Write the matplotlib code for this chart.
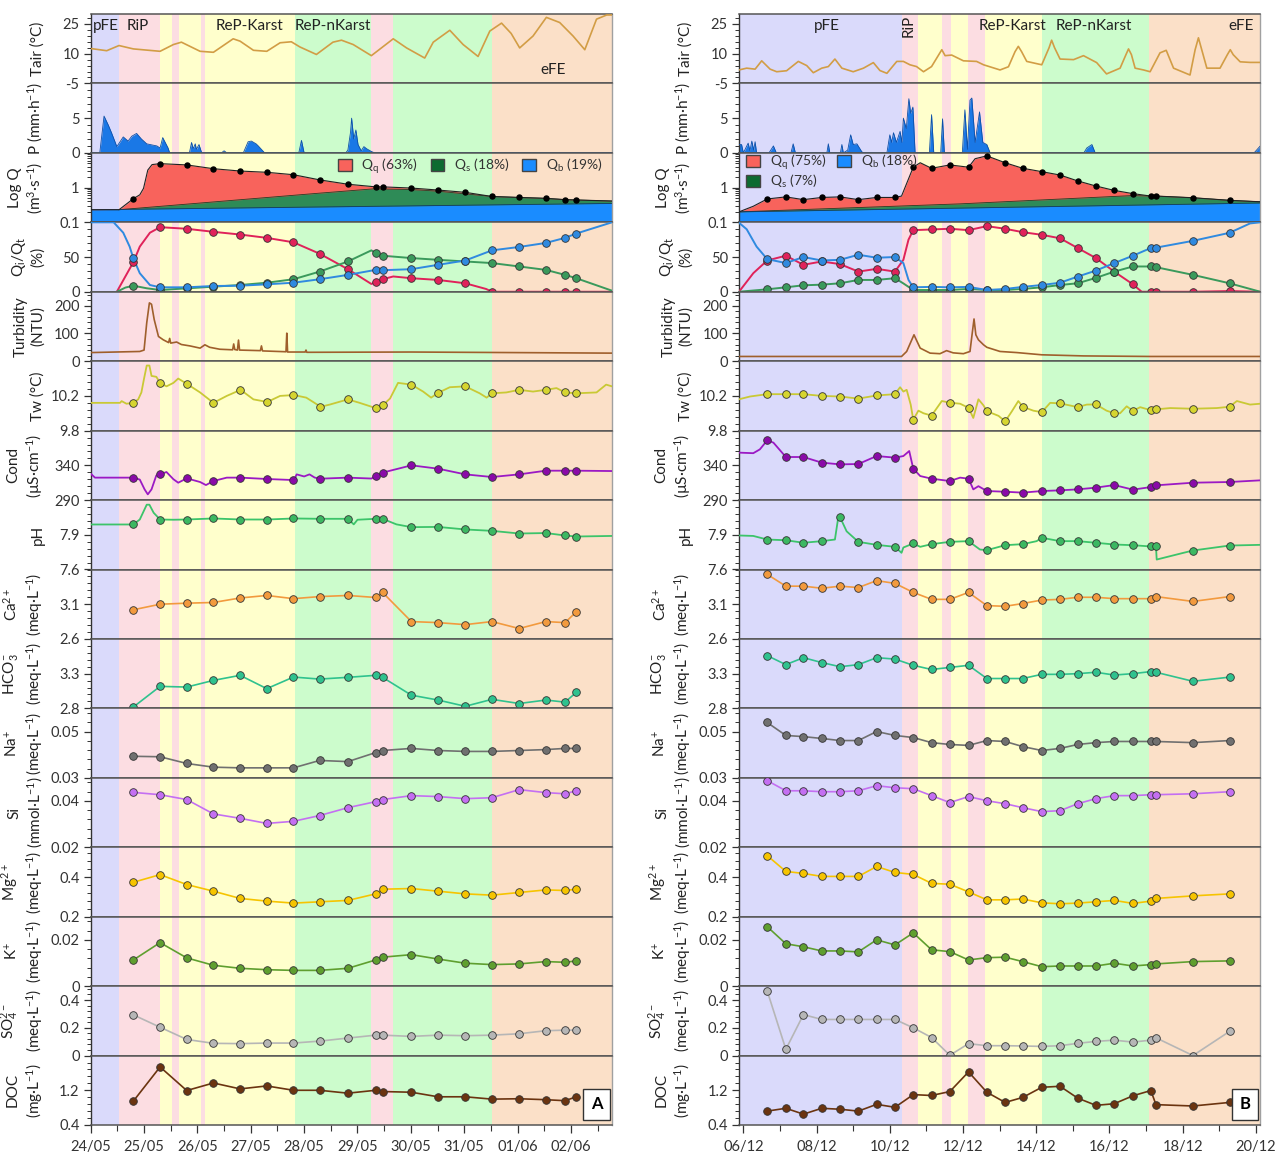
import matplotlib
matplotlib.use("Agg")
import matplotlib.pyplot as plt
from matplotlib.patches import Patch
from matplotlib.ticker import AutoMinorLocator, FixedLocator, FixedFormatter, NullFormatter, LogLocator, MultipleLocator

plt.rcParams['font.family'] = ['Lato', 'DejaVu Sans']
plt.rcParams['mathtext.fontset'] = 'custom'
plt.rcParams['mathtext.rm'] = 'Lato'
plt.rcParams['mathtext.it'] = 'Lato:italic'
plt.rcParams['mathtext.bf'] = 'Lato:bold'

# ---------------- data: column A (24/05 - 02/06), days from 24/05 00:00 ----------------
a_xlim = (0, 9.77)
a_xticks = [0, 1, 2, 3, 4, 5, 6, 7, 8, 9]
a_xticklabels = ['24/05', '25/05', '26/05', '27/05', '28/05', '29/05', '30/05', '31/05', '01/06', '02/06']
a_phase_bounds = [0, 0.53, 1.30, 1.52, 1.66, 2.07, 2.14, 3.83, 5.25, 5.66, 7.53, 9.77]
a_phase_kind = ['pFE', 'RiP', 'ReP-Karst', 'RiP', 'ReP-Karst', 'RiP', 'ReP-Karst', 'ReP-nKarst', 'RiP', 'ReP-nKarst', 'eFE']

a_tair_t = [0, 0.30, 0.53, 0.80, 1.30, 1.55, 1.70, 2.05, 2.30, 2.42, 2.67, 2.80, 3.05, 3.30, 3.55, 3.76, 3.92, 4.23, 4.54,
            4.70, 4.92, 5.26, 5.67, 5.92, 6.26, 6.42, 6.73, 6.98, 7.26, 7.48, 7.70, 7.88, 8.04, 8.29, 8.54, 8.79, 9.04,
            9.26, 9.48, 9.67, 9.77]
a_tair = [12.6, 11.5, 14.1, 12.4, 11.2, 14.6, 15.8, 11.2, 10.7, 12.9, 17.5, 16.3, 11.7, 11.2, 15.5, 16.0, 13.4, 9.6, 15.8,
          16.8, 14.6, 9.0, 17.5, 12.9, 7.8, 15.8, 21.8, 14.6, 8.6, 21.4, 25.4, 20.2, 12.9, 18.9, 28.3, 25.7, 18.9,
          12.0, 27.4, 29.5, 29.5]

a_p_t = [0, 0.17, 0.25, 0.33, 0.39, 0.49, 0.61, 0.70, 0.77, 0.86, 0.95, 1.05, 1.24, 1.30, 1.35, 1.45, 1.48, 1.85, 1.89,
         1.92, 1.96, 1.98, 2.03, 2.08, 2.45, 2.50, 2.55, 2.86, 2.95, 3.01, 3.10, 3.14, 3.26, 3.90, 3.95, 4.00, 4.78,
         4.82, 4.87, 4.89, 4.93, 4.97, 5.01, 5.07, 5.12, 5.17, 5.26, 5.32, 9.77]
a_p = [0, 0, 5.3, 4.0, 2.9, 0.9, 2.3, 1.7, 2.4, 2.8, 2.0, 1.3, 1.0, 0.7, 2.2, 0.7, 0, 0, 1.5, 0.6, 1.3, 0.5, 1.2, 0, 0,
       0.3, 0, 0, 1.6, 1.7, 1.3, 1.0, 0, 0, 1.8, 0, 0, 0.4, 3.0, 5.0, 2.0, 3.3, 1.2, 0.3, 0.9, 0.6, 0.2, 0, 0]

a_q_t = [0, 0.53, 0.80, 0.92, 0.99, 1.07, 1.15, 1.30, 1.80, 2.30, 2.80, 3.30, 3.80, 4.29, 4.82, 5.34, 5.47, 6.01, 6.51,
         7.02, 7.52, 8.03, 8.53, 8.89, 9.10, 9.77]
a_q = [0.23, 0.23, 0.48, 0.62, 0.95, 3.2, 4.6, 4.9, 4.5, 3.5, 3.0, 2.76, 2.35, 1.67, 1.25, 1.05, 1.05, 0.97, 0.85, 0.73,
       0.555, 0.52, 0.49, 0.45, 0.44, 0.41]
a_qs_t = [0.53, 4.23, 5.30, 6.01, 6.51, 7.02, 7.52, 8.03, 8.53, 8.89, 9.10, 9.77]
a_qs_top = [0.23, 0.68, 0.92, 0.88, 0.79, 0.66, 0.555, 0.52, 0.49, 0.45, 0.44, 0.41]
a_qb_t = [0, 9.77]
a_qb_top = [0.23, 0.35]
a_q_legend = ['Q$_\\mathrm{q}$ (63%)', 'Q$_\\mathrm{s}$ (18%)', 'Q$_\\mathrm{b}$ (19%)']

a_qq_t = [0.49, 0.80, 0.92, 1.11, 1.30, 1.80, 2.30, 2.80, 3.30, 3.80, 4.29, 4.82, 5.26, 5.34, 5.47, 5.67, 6.01, 6.51,
          7.02, 7.41, 7.52, 9.77]
a_qq = [0, 42.7, 65, 85, 93, 90.7, 86.3, 82.4, 77.6, 71.2, 54.8, 32.5, 11.2, 13.7, 18, 22, 19.5, 17, 12.2, 4, 0, 0]
a_qb_line_t = [0, 0.43, 0.61, 0.73, 0.80, 0.92, 1.11, 1.30, 1.80, 2.30, 2.80, 3.30, 3.80, 4.29, 4.82, 5.34, 5.47, 6.01,
               6.51, 7.02, 7.52, 8.03, 8.53, 8.89, 9.10, 9.77]
a_qb_line = [100, 100, 85, 65, 48, 26.7, 9.7, 6.4, 6.4, 8.3, 8.7, 10.7, 13, 18, 24.3, 31.5, 31, 32.5, 38.8, 45, 59.6,
             64.5, 70.3, 77.6, 83.8, 100]
a_qs_line_t = [0.49, 0.65, 0.80, 1.05, 1.30, 1.80, 2.30, 2.80, 3.30, 3.80, 4.29, 4.82, 5.26, 5.34, 5.47, 6.01, 6.51,
               7.02, 7.52, 8.03, 8.53, 8.89, 9.10, 9.77]
a_qs_line = [0, 6, 8.7, 5, 2.5, 4.9, 7.3, 9.7, 13, 18, 29, 43.6, 59.6, 55.8, 51.9, 48.5, 46, 43.6, 41.3, 36.4, 31.5,
             24.3, 19.5, 1.5]

a_turb_t = [0, 0.92, 1.00, 1.05, 1.10, 1.14, 1.19, 1.27, 1.36, 1.46, 1.48, 1.50, 1.61, 1.70, 1.86, 2.05, 2.14, 2.23,
            2.42, 2.66, 2.68, 2.70, 2.75, 2.77, 2.79, 3.18, 3.20, 3.22, 3.66, 3.675, 3.69, 4.02, 4.035, 4.05, 6.0, 9.77]
a_turb = [31, 35, 40, 138, 210, 205, 150, 89, 77, 67, 82, 65, 69, 60, 55, 47, 59, 50, 43, 41, 62, 42, 40, 76, 40, 38,
          55, 37, 34, 101, 33, 33, 40, 32, 33, 29]

a_tw_t = [0, 0.55, 0.58, 0.67, 0.80, 0.89, 0.95, 1.00, 1.05, 1.10, 1.14, 1.23, 1.30, 1.42, 1.55, 1.64, 1.80, 2.05, 2.30,
          2.55, 2.81, 3.05, 3.31, 3.55, 3.81, 4.04, 4.31, 4.48, 4.82, 5.04, 5.34, 5.47, 5.61, 5.76, 6.01, 6.23, 6.38,
          6.51, 6.73, 7.02, 7.29, 7.42, 7.52, 7.79, 8.03, 8.29, 8.53, 8.73, 8.89, 9.10, 9.48, 9.66, 9.77]
a_tw = [10.12, 10.12, 10.14, 10.11, 10.12, 10.16, 10.24, 10.40, 10.55, 10.55, 10.43, 10.42, 10.35, 10.31, 10.35, 10.40,
        10.34, 10.24, 10.12, 10.20, 10.27, 10.16, 10.13, 10.20, 10.21, 10.18, 10.075, 10.10, 10.16, 10.12, 10.06,
        10.09, 10.17, 10.35, 10.33, 10.25, 10.18, 10.235, 10.30, 10.31, 10.23, 10.18, 10.23, 10.24, 10.27, 10.25,
        10.27, 10.29, 10.24, 10.23, 10.24, 10.33, 10.31]

a_cond_t = [0, 0.08, 0.53, 0.80, 0.92, 1.01, 1.07, 1.14, 1.23, 1.30, 1.42, 1.55, 1.64, 1.80, 2.05, 2.16, 2.30, 2.55,
            2.81, 3.31, 3.81, 3.86, 4.0, 4.10, 4.20, 4.31, 4.82, 5.26, 5.34, 5.47, 6.01, 6.51, 7.02, 7.52, 8.03, 8.53,
            8.89, 9.10, 9.77]
a_cond = [328, 322.3, 322.3, 322.3, 319.5, 305.4, 298.2, 305.4, 325.5, 327, 330.4, 320, 315, 321.3, 316, 311.6, 317.4,
          322.3, 322.3, 320.3, 318.8, 327, 324, 327, 322.3, 320.8, 322.3, 321, 324.1, 329.5, 340, 335.2, 327, 323.2,
          327, 332.3, 332.3, 332.3, 331.8]

a_ph_t = [0, 0.55, 0.80, 0.92, 1.05, 1.10, 1.18, 1.30, 1.55, 1.80, 2.30, 2.81, 3.31, 3.81, 4.31, 4.82, 4.93, 5.0, 5.34,
          5.47, 5.73, 6.01, 6.51, 7.02, 7.52, 8.03, 8.53, 8.89, 9.10, 9.77]
a_ph = [7.989, 7.989, 7.989, 8.032, 8.16, 8.16, 8.09, 8.032, 8.03, 8.032, 8.041, 8.032, 8.032, 8.041, 8.038, 8.038,
        7.99, 8.03, 8.038, 8.038, 7.99, 7.966, 7.968, 7.946, 7.934, 7.911, 7.915, 7.894, 7.885, 7.89]

# sampling campaign (markers)
a_days = [0.80, 1.30, 1.80, 2.30, 2.80, 3.30, 3.80, 4.29, 4.82, 5.34, 5.47, 6.01, 6.51, 7.02, 7.52, 8.03, 8.53, 8.89, 9.10]
a_q_s = [0.48, 4.9, 4.5, 3.5, 3.0, 2.76, 2.35, 1.67, 1.25, 1.05, 1.05, 0.97, 0.85, 0.73, 0.555, 0.52, 0.49, 0.45, 0.44]
a_qq_s = [42.7, 93, 90.7, 86.3, 82.4, 77.6, 71.2, 54.8, 32.5, 13.7, 18, 19.5, 17, 12.2, 0, 0, 0, 0, 0]
a_qs_s = [8.7, 2.5, 4.9, 7.3, 9.7, 13, 18, 29, 43.6, 55.8, 51.9, 48.5, 46, 43.6, 41.3, 36.4, 31.5, 24.3, 19.5]
a_qb_s = [48, 6.4, 6.4, 8.3, 8.7, 10.7, 13, 18, 24.3, 31.5, 31, 32.5, 38.8, 45, 59.6, 64.5, 70.3, 77.6, 83.8]
a_tw_s = [10.12, 10.346, 10.338, 10.12, 10.267, 10.134, 10.208, 10.075, 10.16, 10.059, 10.09, 10.326, 10.235, 10.31,
          10.23, 10.27, 10.27, 10.24, 10.23]
a_cond_s = [322.3, 327, 321.3, 317.4, 322.3, 320.3, 318.8, 320.8, 322.3, 324.1, 329.5, 340, 335.2, 327, 323.2, 327,
            332.3, 332.3, 332.3]
a_ph_s = [7.989, 8.032, 8.032, 8.041, 8.032, 8.032, 8.041, 8.038, 8.038, 8.038, 8.038, 7.966, 7.968, 7.946, 7.934,
          7.911, 7.915, 7.894, 7.885]
a_ca = [3.02, 3.10, 3.115, 3.125, 3.19, 3.226, 3.18, 3.21, 3.226, 3.197, 3.27, 2.85, 2.835, 2.806, 2.85, 2.75, 2.85,
        2.835, 2.99]
a_hco3 = [2.82, 3.117, 3.107, 3.203, 3.276, 3.084, 3.251, 3.222, 3.247, 3.276, 3.247, 2.99, 2.92, 2.83, 2.93, 2.87,
          2.92, 2.89, 3.03]
a_na = [0.0393, 0.0391, 0.0362, 0.0346, 0.0343, 0.0343, 0.0343, 0.0375, 0.037, 0.0409, 0.0418, 0.0427, 0.0418, 0.0414,
        0.0414, 0.0418, 0.0422, 0.0427, 0.0427]
a_si = [0.0437, 0.0427, 0.0406, 0.0344, 0.0325, 0.0303, 0.0312, 0.0337, 0.0371, 0.0397, 0.0406, 0.0423, 0.0419, 0.041,
        0.0414, 0.0449, 0.0436, 0.0431, 0.0444]
a_mg = [0.3735, 0.412, 0.362, 0.3285, 0.292, 0.2785, 0.2685, 0.275, 0.282, 0.315, 0.3385, 0.342, 0.3285, 0.315,
        0.3085, 0.322, 0.335, 0.332, 0.3385]
a_k = [0.0113, 0.0188, 0.0122, 0.009, 0.0077, 0.0071, 0.0068, 0.0068, 0.0077, 0.0113, 0.0125, 0.0136, 0.0117, 0.0099,
       0.0093, 0.0096, 0.0106, 0.0103, 0.0109]
a_so4 = [0.293, 0.204, 0.116, 0.088, 0.086, 0.09, 0.09, 0.104, 0.126, 0.147, 0.147, 0.138, 0.147, 0.143, 0.147, 0.157,
         0.179, 0.183, 0.183]
a_doc = [0.951, 1.738, 1.194, 1.368, 1.232, 1.30, 1.20, 1.20, 1.133, 1.20, 1.171, 1.155, 1.05, 1.05, 0.996, 1.005,
         0.983, 0.96, 1.05]

# ---------------- data: column B (06/12 - 20/12), days from 06/12 00:00 ----------------
b_xlim = (-0.12, 14.12)
b_xticks = [0, 2, 4, 6, 8, 10, 12, 14]
b_xticklabels = ['06/12', '08/12', '10/12', '12/12', '14/12', '16/12', '18/12', '20/12']
b_phase_bounds = [-0.12, 4.32, 4.76, 5.43, 5.68, 6.14, 6.60, 8.15, 11.08, 14.12]
b_phase_kind = ['pFE', 'RiP', 'ReP-Karst', 'RiP', 'ReP-Karst', 'RiP', 'ReP-Karst', 'ReP-nKarst', 'eFE']

b_tair_t = [-0.12, 0.09, 0.32, 0.50, 0.73, 0.91, 1.18, 1.50, 1.73, 1.91, 2.14, 2.32, 2.50, 2.69, 3.00, 3.28, 3.55, 3.73,
            3.92, 4.19, 4.37, 4.55, 4.73, 4.92, 5.14, 5.42, 5.51, 5.69, 6.01, 6.37, 6.56, 7.01, 7.24, 7.42, 7.51, 7.60,
            7.74, 8.15, 8.35, 8.42, 8.50, 8.65, 9.02, 9.29, 9.65, 9.92, 10.29, 10.45, 10.52, 10.60, 10.70, 10.93, 11.11,
            11.38, 11.55, 11.75, 12.20, 12.34, 12.43, 12.52, 12.66, 13.02, 13.22, 13.30, 13.38, 13.57, 13.84, 14.12]
b_tair = [1.8, 2.7, 2.2, 6.4, 2.2, 0.9, 1.4, 6.1, 4.0, 0.4, 2.7, 3.5, 7.3, 2.7, 0.9, 2.7, 5.5, 1.5, 0.1, 6.1, 6.1, 4.4,
          3.5, 0.9, 3.5, 12.0, 9.0, 9.3, 6.4, 6.1, 4.4, 1.8, 3.4, 11.0, 13.7, 11.0, 6.1, 4.4, 13.0, 16.8, 13.0, 7.3,
          7.0, 9.0, 5.5, -0.2, 2.7, 9.5, 12.4, 9.5, 2.7, 1.8, 0.9, 10.4, 11.7, 2.7, -0.75, 12.0, 18.0, 12.0, 2.7, 2.7,
          9.5, 12.0, 9.5, 5.9, 5.6, 5.6]

b_p_t = [-0.12, -0.05, 0.0, 0.13, 0.18, 0.23, 0.28, 0.32, 0.36, 0.70, 0.82, 0.90, 1.30, 1.36, 1.42, 2.28, 2.32, 2.36,
         2.65, 2.69, 2.73, 2.85, 2.93, 3.00, 3.10, 3.23, 3.27, 3.92, 4.00, 4.05, 4.10, 4.18, 4.28, 4.33, 4.37, 4.45,
         4.52, 4.57, 4.63, 4.69, 5.08, 5.14, 5.20, 5.39, 5.44, 5.49, 5.98, 6.05, 6.12, 6.19, 6.24, 6.33, 6.45, 6.54,
         6.65, 6.74, 9.30, 9.38, 9.52, 9.61, 13.95, 14.12]
b_p = [1.2, 1.2, 0, 1.4, 0.3, 1.7, 0.4, 1.6, 0, 0, 1.0, 0, 0, 1.3, 0, 0, 1.3, 0, 0, 1.2, 0, 0.4, 2.6, 1.2, 1.3, 0.2, 0,
       0, 2.6, 1.5, 2.9, 1.5, 3.1, 1.5, 5.0, 3.5, 7.8, 5.7, 6.6, 0, 0, 5.5, 0, 0, 4.9, 0, 0, 6.2, 0.5, 7.6, 7.9, 1.5,
       5.9, 1.5, 1.2, 0, 0, 0.7, 1.2, 0, 0, 1.0]

b_q_t = [-0.12, 0.27, 0.65, 1.16, 1.64, 2.14, 2.64, 3.14, 3.64, 4.14, 4.32, 4.64, 4.83, 5.14, 5.64, 6.15, 6.33, 6.65,
         7.15, 7.63, 8.15, 8.65, 9.13, 9.63, 10.13, 10.64, 11.13, 11.27, 12.28, 13.28, 14.12]
b_q = [0.20, 0.29, 0.47, 0.54, 0.45, 0.52, 0.54, 0.45, 0.52, 0.52, 0.57, 3.87, 5.2, 3.6, 4.5, 3.87, 6.8, 8.2, 5.2, 3.6,
       2.88, 2.3, 1.56, 1.11, 0.83, 0.67, 0.57, 0.57, 0.51, 0.43, 0.39]
b_qs_t = [-0.12, 5.92, 10.64, 11.13, 11.27, 12.28, 13.28, 14.12]
b_qs_top = [0.20, 0.34, 0.59, 0.57, 0.57, 0.51, 0.43, 0.39]
b_qb_t = [-0.12, 14.12]
b_qb_top = [0.20, 0.36]
b_q_legend = ['Q$_\\mathrm{q}$ (75%)', 'Q$_\\mathrm{s}$ (7%)', 'Q$_\\mathrm{b}$ (18%)']

b_qq_t = [-0.12, 0.27, 0.65, 1.16, 1.64, 2.14, 2.64, 3.14, 3.64, 4.14, 4.37, 4.51, 4.64, 5.14, 5.64, 6.15, 6.65, 7.15,
          7.63, 8.15, 8.65, 9.13, 9.63, 10.13, 10.64, 10.88, 11.13, 11.27, 12.28, 13.28, 14.12]
b_qq = [0, 26.7, 45, 51.9, 38.8, 43.6, 39.8, 29, 33, 29, 46, 75, 88.7, 89.7, 90.7, 88.7, 94.5, 90.7, 85.8, 82, 77, 63,
        48.5, 29, 10.7, 0, 0, 0, 0, 1, 0]
b_qb_line_t = [-0.12, 0.09, 0.36, 0.65, 1.16, 1.64, 2.14, 2.64, 3.14, 3.64, 4.14, 4.37, 4.51, 4.64, 5.14, 5.64, 6.15,
               6.65, 7.15, 7.63, 8.15, 8.65, 9.13, 9.63, 10.13, 10.64, 11.13, 11.27, 12.28, 13.28, 13.84, 14.12]
b_qb_line = [99.4, 90, 65, 47, 41.3, 50, 45, 46, 53.3, 49, 50, 41.3, 17, 6.4, 7, 6.4, 7, 2.5, 4, 7, 9.7, 13, 21.8, 30.5,
             41.3, 51.9, 63, 63.5, 73.3, 84.9, 98.4, 100]
b_qs_line_t = [-0.12, 0.65, 1.16, 1.64, 2.14, 2.64, 3.14, 3.64, 4.14, 4.37, 4.64, 5.14, 5.64, 6.15, 6.65, 7.15, 7.63,
               8.15, 8.65, 9.13, 9.63, 10.13, 10.64, 11.13, 11.27, 12.28, 13.28, 14.12]
b_qs_line = [0, 3.5, 6.4, 9.3, 10.2, 12.2, 17, 17, 19.5, 12, 2.5, 2.5, 2.5, 4, 2.5, 2.5, 4, 6.4, 9.7, 12.2, 20, 29, 36.4,
             36.4, 35.4, 24.3, 12.2, 0]

b_turb_t = [-0.12, 4.32, 4.46, 4.60, 4.66, 4.73, 4.83, 5.10, 5.37, 5.55, 5.73, 6.01, 6.19, 6.24, 6.30, 6.35, 6.42, 6.56,
            6.65, 7.01, 7.47, 8.15, 9.29, 11.11, 14.12]
b_turb = [17, 17, 35, 77, 95, 75, 47, 29, 27, 38, 30, 27, 35, 89, 152, 95, 77, 59, 50, 35, 31, 23, 19, 17, 17]

b_tw_t = [-0.12, 0.18, 0.65, 1.16, 1.64, 2.14, 2.64, 3.14, 3.64, 4.14, 4.28, 4.37, 4.46, 4.57, 4.64, 4.78, 4.92, 5.14,
          5.42, 5.64, 5.92, 6.15, 6.28, 6.42, 6.56, 6.65, 6.97, 7.15, 7.33, 7.51, 7.63, 7.92, 8.15, 8.38, 8.65, 8.92,
          9.13, 9.38, 9.63, 9.92, 10.13, 10.29, 10.47, 10.64, 10.84, 11.13, 11.27, 11.66, 12.28, 12.93, 13.28, 13.48,
          13.84, 14.12]
b_tw = [10.161, 10.193, 10.22, 10.22, 10.22, 10.2, 10.193, 10.169, 10.205, 10.22, 10.30, 10.25, 10.27, 10.10, 9.926,
        10.03, 10.0, 9.973, 10.141, 10.122, 10.11, 10.063, 9.946, 10.161, 10.09, 10.024, 9.97, 9.906, 10.02, 10.141,
        10.075, 10.03, 10.012, 10.12, 10.114, 10.09, 10.071, 10.1, 10.102, 10.03, 10.0, 10.0, 10.08, 10.028, 10.07,
        10.035, 10.045, 10.06, 10.052, 10.06, 10.075, 10.141, 10.10, 10.11]

b_cond_t = [-0.12, 0.27, 0.45, 0.65, 0.82, 1.16, 1.64, 2.14, 2.64, 3.14, 3.64, 4.14, 4.37, 4.53, 4.64, 4.83, 5.14, 5.64,
            5.92, 6.15, 6.28, 6.42, 6.65, 7.15, 7.63, 8.15, 8.65, 9.13, 9.63, 10.13, 10.64, 11.13, 11.27, 12.28, 13.28,
            14.12]
b_cond = [358.3, 357.5, 363, 376, 372.7, 352, 352, 343.9, 341.4, 341.9, 353.4, 351.1, 353.4, 360.6, 335.2, 324.6, 320.8,
          317.4, 322.3, 320.8, 305.4, 310, 303, 302, 300.7, 303, 304, 305.4, 307.9, 311.6, 305, 308.7, 311.2, 315, 316,
          318.4]

b_ph_t = [-0.12, 0.27, 0.65, 1.16, 1.64, 2.14, 2.50, 2.59, 2.64, 2.82, 3.14, 3.64, 4.14, 4.32, 4.37, 4.64, 4.83, 5.14,
          5.64, 6.15, 6.46, 6.65, 7.15, 7.63, 8.01, 8.15, 8.65, 9.13, 9.63, 10.13, 10.64, 11.13, 11.27, 11.29, 12.02,
          12.28, 13.28, 14.12]
b_ph = [7.894, 7.89, 7.859, 7.853, 7.831, 7.845, 7.859, 8.047, 8.052, 7.93, 7.839, 7.813, 7.796, 7.744, 7.79, 7.825,
        7.796, 7.819, 7.839, 7.845, 7.773, 7.767, 7.81, 7.819, 7.845, 7.874, 7.845, 7.845, 7.831, 7.816, 7.81, 7.799,
        7.799, 7.686, 7.744, 7.764, 7.807, 7.813]

b_days = [0.65, 1.16, 1.64, 2.14, 2.64, 3.14, 3.64, 4.14, 4.64, 5.14, 5.64, 6.15, 6.65, 7.15, 7.63, 8.15, 8.65, 9.13,
          9.63, 10.13, 10.64, 11.13, 11.27, 12.28, 13.28]
b_q_s = [0.47, 0.54, 0.45, 0.52, 0.54, 0.45, 0.52, 0.52, 3.87, 3.6, 4.5, 3.87, 8.2, 5.2, 3.6, 2.88, 2.3, 1.56, 1.11,
         0.83, 0.67, 0.57, 0.57, 0.51, 0.43]
b_qq_s = [45, 51.9, 38.8, 43.6, 39.8, 29, 33, 29, 88.7, 89.7, 90.7, 88.7, 94.5, 90.7, 85.8, 82, 77, 63, 48.5, 29, 10.7,
          0, 0, 0, 1]
b_qs_s = [3.5, 6.4, 9.3, 10.2, 12.2, 17, 17, 19.5, 2.5, 2.5, 2.5, 4, 2.5, 2.5, 4, 6.4, 9.7, 12.2, 20, 29, 36.4, 36.4,
          35.4, 24.3, 12.2]
b_qb_s = [47, 41.3, 50, 45, 46, 53.3, 49, 50, 6.4, 7, 6.4, 7, 2.5, 4, 7, 9.7, 13, 21.8, 30.5, 41.3, 51.9, 63, 63.5,
          73.3, 84.9]
b_tw_s = [10.22, 10.22, 10.22, 10.2, 10.193, 10.169, 10.205, 10.22, 9.926, 9.973, 10.122, 10.063, 10.024, 9.906,
          10.075, 10.012, 10.114, 10.071, 10.102, 10.0, 10.028, 10.035, 10.045, 10.052, 10.075]
b_cond_s = [376, 352, 352, 343.9, 341.4, 341.9, 353.4, 351.1, 335.2, 320.8, 317.4, 320.8, 303, 302, 300.7, 303, 304,
            305.4, 307.9, 311.6, 305, 308.7, 311.2, 315, 316]
b_ph_s = [7.859, 7.853, 7.831, 7.845, 8.052, 7.839, 7.813, 7.796, 7.825, 7.819, 7.839, 7.845, 7.767, 7.81, 7.819,
          7.874, 7.845, 7.845, 7.831, 7.816, 7.81, 7.799, 7.799, 7.764, 7.807]
b_ca = [3.53, 3.36, 3.36, 3.33, 3.36, 3.34, 3.44, 3.40, 3.27, 3.17, 3.17, 3.27, 3.08, 3.07, 3.11, 3.16, 3.17, 3.20,
        3.20, 3.18, 3.18, 3.18, 3.21, 3.14, 3.21]
b_hco3 = [3.56, 3.43, 3.53, 3.46, 3.40, 3.43, 3.53, 3.51, 3.42, 3.36, 3.39, 3.42, 3.23, 3.23, 3.23, 3.29, 3.29, 3.30,
          3.32, 3.28, 3.30, 3.33, 3.32, 3.19, 3.25]
b_na = [0.0539, 0.0483, 0.0478, 0.047, 0.0461, 0.0461, 0.05, 0.0483, 0.0474, 0.0452, 0.0444, 0.044, 0.0461, 0.0457,
        0.0435, 0.0418, 0.0427, 0.0444, 0.0452, 0.0457, 0.0457, 0.0457, 0.0457, 0.0452, 0.0461]
b_si = [0.0488, 0.0444, 0.0444, 0.044, 0.044, 0.0444, 0.0466, 0.0457, 0.0453, 0.0423, 0.0393, 0.0419, 0.0401, 0.0388,
        0.0371, 0.0354, 0.0358, 0.0388, 0.041, 0.0423, 0.0423, 0.0427, 0.0427, 0.0431, 0.044]
b_mg = [0.508, 0.428, 0.418, 0.403, 0.403, 0.403, 0.453, 0.423, 0.413, 0.368, 0.3635, 0.325, 0.285, 0.285, 0.289, 0.27,
        0.265, 0.2685, 0.275, 0.282, 0.267, 0.2785, 0.292, 0.305, 0.315]
b_k = [0.0257, 0.0183, 0.017, 0.0152, 0.0152, 0.0148, 0.02, 0.0178, 0.023, 0.0157, 0.0149, 0.0113, 0.0123, 0.0125,
       0.0106, 0.0084, 0.0087, 0.0087, 0.0087, 0.0099, 0.0087, 0.0093, 0.0096, 0.0106, 0.0109]
b_so4 = [0.466, 0.045, 0.295, 0.26, 0.26, 0.26, 0.26, 0.26, 0.2, 0.13, 0.002, 0.086, 0.071, 0.071, 0.069, 0.066, 0.071,
         0.088, 0.102, 0.111, 0.097, 0.111, 0.128, 0.0, 0.174]
b_doc = [0.72, 0.785, 0.65, 0.785, 0.763, 0.72, 0.876, 0.808, 1.10, 1.08, 1.171, 1.624, 1.155, 0.92, 1.035, 1.269,
         1.292, 1.02, 0.853, 0.89, 1.073, 1.194, 0.869, 0.838, 0.92]

# ---------------- style / layout ----------------
phase_colors = {'pFE': '#dadafb', 'RiP': '#fcdde2', 'ReP-Karst': '#ffffcc', 'ReP-nKarst': '#ccfccc', 'eFE': '#fbe0c8'}

panels = [
    ('Tair (°C)', (-5, 30), [-5, 10, 25], ['-5', '10', '25']),
    ('P (mm·h$^{-1}$)', (0, 10), [0, 5], ['0', '5']),
    ('Log Q\n(m$^{3}$·s$^{-1}$)', (0.1, 10), [0.1, 1], ['0.1', '1']),
    ('Q$_\\mathrm{i}$/Q$_\\mathrm{t}$\n(%)', (0, 100), [0, 50], ['0', '50']),
    ('Turbidity\n(NTU)', (0, 250), [0, 100, 200], ['0', '100', '200']),
    ('Tw (°C)', (9.8, 10.6), [9.8, 10.2], ['9.8', '10.2']),
    ('Cond\n(µS·cm$^{-1}$)', (290, 390), [290, 340], ['290', '340']),
    ('pH', (7.6, 8.2), [7.6, 7.9], ['7.6', '7.9']),
    ('Ca$^{2+}$\n(meq·L$^{-1}$)', (2.6, 3.6), [2.6, 3.1], ['2.6', '3.1']),
    ('HCO$_{3}^{-}$\n(meq·L$^{-1}$)', (2.8, 3.8), [2.8, 3.3], ['2.8', '3.3']),
    ('Na$^{+}$\n(meq·L$^{-1}$)', (0.03, 0.06), [0.03, 0.05], ['0.03', '0.05']),
    ('Si\n(mmol·L$^{-1}$)', (0.02, 0.05), [0.02, 0.04], ['0.02', '0.04']),
    ('Mg$^{2+}$\n(meq·L$^{-1}$)', (0.2, 0.55), [0.2, 0.4], ['0.2', '0.4']),
    ('K$^{+}$\n(meq·L$^{-1}$)', (0, 0.03), [0, 0.02], ['0', '0.02']),
    ('SO$_{4}^{2-}$\n(meq·L$^{-1}$)', (0, 0.5), [0, 0.2, 0.4], ['0', '0.2', '0.4']),
    ('DOC\n(mg·L$^{-1}$)', (0.4, 2.0), [0.4, 1.2], ['0.4', '1.2']),
]

W, H = 1279, 1157
TOP = 14.0
PH = (1125.0 - TOP) / len(panels)
COLW = 521.3

c_qq, c_qs, c_qb = '#f8635c', '#2e8b57', '#1a8cff'
c_lq, c_ls, c_lb = '#e0225a', '#3a9a5c', '#2f8ae0'
EDGE = '#333333'


def samples(ax, days, vals, color, line=True, ms=5.5):
    if line:
        ax.plot(days, vals, '-', color=color, lw=1.2, zorder=3)
    ax.plot(days, vals, 'o', ms=ms, mfc=color, mec=EDGE, mew=0.6, ls='none', zorder=4)


def draw_column(fig, x0, d):
    axes = []
    for i, (lab, ylim, ticks, tlabels) in enumerate(panels):
        top = TOP + i * PH
        ax = fig.add_axes([x0 / W, 1 - (top + PH) / H, COLW / W, PH / H])
        axes.append(ax)
        ax.set_xlim(*d['xlim'])
        for k in range(len(d['kind'])):
            ax.axvspan(d['bounds'][k], d['bounds'][k + 1], color=phase_colors[d['kind'][k]], lw=0, zorder=0)
        if i == 2:
            ax.set_yscale('log')
            ax.yaxis.set_minor_locator(LogLocator(base=10, subs=[2, 3, 4, 5, 6, 7, 8, 9]))
        ax.set_ylim(*ylim)
        ax.yaxis.set_major_locator(FixedLocator(ticks))
        ax.yaxis.set_major_formatter(FixedFormatter(tlabels))
        if i != 2:
            ax.yaxis.set_minor_locator(AutoMinorLocator(5))
        ax.yaxis.set_minor_formatter(NullFormatter())
        ax.tick_params(axis='y', which='major', direction='out', length=5, width=0.9, pad=3,
                       labelsize=10.5, colors='#333333')
        ax.tick_params(axis='y', which='minor', direction='out', length=3, width=0.7, colors='#333333')
        ax.set_ylabel(lab, fontsize=11, color='#222222', linespacing=1.25)
        ax.yaxis.set_label_coords(-0.088, 0.5)
        for s in ['top', 'bottom']:
            ax.spines[s].set_color('#555555')
            ax.spines[s].set_linewidth(1.1)
        ax.spines['left'].set_color('#333333')
        ax.spines['left'].set_linewidth(1.0)
        ax.spines['right'].set_color('#a0a0a0')
        ax.spines['right'].set_linewidth(1.0)
        if i < len(panels) - 1:
            ax.tick_params(axis='x', which='both', bottom=False, labelbottom=False)
        else:
            ax.set_xticks(d['xticks'])
            ax.set_xticklabels(d['xticklabels'])
            ax.xaxis.set_minor_locator(MultipleLocator(d['xminor']))
            ax.tick_params(axis='x', which='major', direction='out', length=6, width=0.9, pad=5,
                           labelsize=10.5, colors='#333333')
            ax.tick_params(axis='x', which='minor', direction='out', length=4, width=0.8, colors='#333333')

    # Tair
    ax = axes[0]
    ax.plot(d['tair_t'], d['tair'], color='#d29d45', lw=1.2, zorder=3)
    # P
    ax = axes[1]
    ax.fill_between(d['p_t'], 0, d['p'], color='#1a78e6', lw=0, zorder=2)
    ax.plot(d['p_t'], d['p'], color='#0d4fa8', lw=0.6, zorder=3)
    # Log Q stacked
    ax = axes[2]
    ax.fill_between(d['q_t'], 0.1, d['q'], color=c_qq, lw=0, zorder=2)
    ax.fill_between(d['qs_t'], 0.1, d['qs_top'], color=c_qs, lw=0, zorder=2)
    ax.fill_between(d['qb_t'], 0.1, d['qb_top'], color=c_qb, lw=0, zorder=2)
    ax.plot(d['qs_t'], d['qs_top'], color='#1f3f25', lw=0.6, zorder=3)
    ax.plot(d['qb_t'], d['qb_top'], color='#123a66', lw=0.6, zorder=3)
    ax.plot(d['q_t'], d['q'], color='#222222', lw=0.8, zorder=3)
    ax.plot(d['days'], d['q_s'], 'o', ms=3.6, color='black', ls='none', zorder=4)
    handles = [Patch(facecolor=c_qq, edgecolor='#444444'), Patch(facecolor='#0c6b30', edgecolor='#444444'),
               Patch(facecolor=c_qb, edgecolor='#444444')]
    ax.legend(handles, d['q_legend'], **d['legend_kw'], frameon=False, fontsize=10, borderpad=0.2,
              handlelength=1.0, handleheight=0.9, handletextpad=0.7, labelcolor='#333333')
    # Qi/Qt
    ax = axes[3]
    ax.plot(d['qq_t'], d['qq'], color=c_lq, lw=1.4, zorder=3)
    ax.plot(d['qs_line_t'], d['qs_line'], color=c_ls, lw=1.4, zorder=3)
    ax.plot(d['qb_line_t'], d['qb_line'], color=c_lb, lw=1.4, zorder=3)
    samples(ax, d['days'], d['qq_s'], c_lq, line=False)
    samples(ax, d['days'], d['qs_s'], c_ls, line=False)
    samples(ax, d['days'], d['qb_s'], c_lb, line=False)
    # Turbidity
    axes[4].plot(d['turb_t'], d['turb'], color='#9f5f2c', lw=1.2, zorder=3)
    # Tw
    axes[5].plot(d['tw_t'], d['tw'], color='#c9c935', lw=1.3, zorder=3)
    samples(axes[5], d['days'], d['tw_s'], '#d6d530', line=False)
    # Cond
    axes[6].plot(d['cond_t'], d['cond'], color='#9b19c4', lw=1.3, zorder=3)
    samples(axes[6], d['days'], d['cond_s'], '#8a0aa8', line=False)
    # pH
    axes[7].plot(d['ph_t'], d['ph'], color='#3cc46a', lw=1.3, zorder=3)
    samples(axes[7], d['days'], d['ph_s'], '#3cb862', line=False)
    # chemistry
    samples(axes[8], d['days'], d['ca'], '#f29a3e')
    samples(axes[9], d['days'], d['hco3'], '#2fc28e')
    samples(axes[10], d['days'], d['na'], '#707070')
    samples(axes[11], d['days'], d['si'], '#c46ff2')
    samples(axes[12], d['days'], d['mg'], '#f6c400')
    samples(axes[13], d['days'], d['k'], '#5f9f2f')
    samples(axes[14], d['days'], d['so4'], '#b6b6b6')
    samples(axes[15], d['days'], d['doc'], '#6b3410')

    # phase names
    for txt, x, y, kw in d['phase_labels']:
        axes[0].text(x, y, txt, fontsize=11, color='#222222', zorder=5, **kw)
    axes[15].text(0.97, 0.30, d['letter'], transform=axes[15].transAxes, ha='center', va='center',
                  fontsize=12, fontweight='bold', zorder=6,
                  bbox=dict(boxstyle='square,pad=0.45', facecolor='white', edgecolor='#333333', lw=1.0))
    return axes


col_a = dict(xlim=a_xlim, xticks=a_xticks, xticklabels=a_xticklabels, xminor=0.5,
             bounds=a_phase_bounds, kind=a_phase_kind,
             tair_t=a_tair_t, tair=a_tair, p_t=a_p_t, p=a_p,
             q_t=a_q_t, q=a_q, qs_t=a_qs_t, qs_top=a_qs_top, qb_t=a_qb_t, qb_top=a_qb_top, q_legend=a_q_legend,
             legend_kw=dict(loc='upper right', ncol=3, bbox_to_anchor=(1.0, 1.09), columnspacing=0.9),
             qq_t=a_qq_t, qq=a_qq, qs_line_t=a_qs_line_t, qs_line=a_qs_line, qb_line_t=a_qb_line_t,
             qb_line=a_qb_line, turb_t=a_turb_t, turb=a_turb, tw_t=a_tw_t, tw=a_tw, cond_t=a_cond_t, cond=a_cond,
             ph_t=a_ph_t, ph=a_ph, days=a_days, q_s=a_q_s, qq_s=a_qq_s, qs_s=a_qs_s, qb_s=a_qb_s,
             tw_s=a_tw_s, cond_s=a_cond_s, ph_s=a_ph_s, ca=a_ca, hco3=a_hco3, na=a_na, si=a_si, mg=a_mg,
             k=a_k, so4=a_so4, doc=a_doc, letter='A',
             phase_labels=[('pFE', 0.05, 23.8, dict(ha='left', va='center')),
                           ('RiP', 0.88, 23.8, dict(ha='center', va='center')),
                           ('ReP-Karst', 2.98, 23.8, dict(ha='center', va='center')),
                           ('ReP-nKarst', 4.54, 23.8, dict(ha='center', va='center')),
                           ('eFE', 8.66, 1.8, dict(ha='center', va='center'))])

col_b = dict(xlim=b_xlim, xticks=b_xticks, xticklabels=b_xticklabels, xminor=1.0,
             bounds=b_phase_bounds, kind=b_phase_kind,
             tair_t=b_tair_t, tair=b_tair, p_t=b_p_t, p=b_p,
             q_t=b_q_t, q=b_q, qs_t=b_qs_t, qs_top=b_qs_top, qb_t=b_qb_t, qb_top=b_qb_top, q_legend=b_q_legend,
             legend_kw=dict(loc='upper left', ncol=2, bbox_to_anchor=(-0.005, 1.15), columnspacing=0.8,
                            labelspacing=0.05),
             qq_t=b_qq_t, qq=b_qq, qs_line_t=b_qs_line_t, qs_line=b_qs_line, qb_line_t=b_qb_line_t,
             qb_line=b_qb_line, turb_t=b_turb_t, turb=b_turb, tw_t=b_tw_t, tw=b_tw, cond_t=b_cond_t, cond=b_cond,
             ph_t=b_ph_t, ph=b_ph, days=b_days, q_s=b_q_s, qq_s=b_qq_s, qs_s=b_qs_s, qb_s=b_qb_s,
             tw_s=b_tw_s, cond_s=b_cond_s, ph_s=b_ph_s, ca=b_ca, hco3=b_hco3, na=b_na, si=b_si, mg=b_mg,
             k=b_k, so4=b_so4, doc=b_doc, letter='B',
             phase_labels=[('pFE', 2.28, 23.8, dict(ha='center', va='center')),
                           ('RiP', 4.52, 23.8, dict(ha='center', va='center', rotation=90)),
                           ('ReP-Karst', 7.34, 23.8, dict(ha='center', va='center')),
                           ('ReP-nKarst', 9.58, 23.8, dict(ha='center', va='center')),
                           ('eFE', 13.6, 23.8, dict(ha='center', va='center'))])

fig = plt.figure(figsize=(W / 100, H / 100), dpi=100)
draw_column(fig, 90.7, col_a)
draw_column(fig, 739.0, col_b)
fig.savefig('out.png', dpi=100, facecolor='white')
